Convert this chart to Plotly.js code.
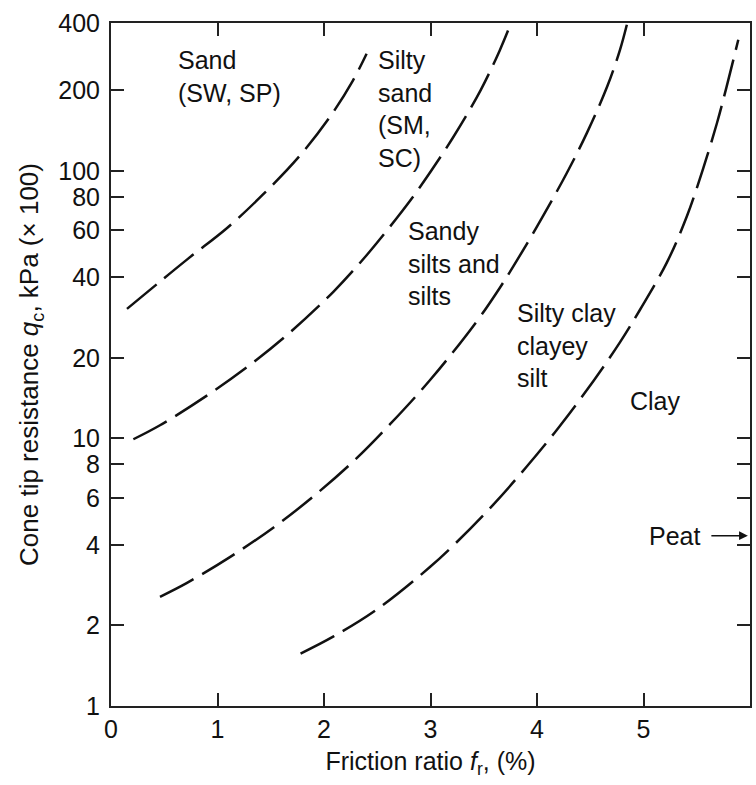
<!DOCTYPE html>
<html>
<head>
<meta charset="utf-8">
<script src="https://cdn.plot.ly/plotly-3.0.1.min.js"></script>
<style>html,body{margin:0;padding:0;background:#fff;}#chart{width:756px;height:785px;}</style>
</head>
<body>
<div id="chart"></div>
<script>
// Boundary curves (friction ratio %, cone tip resistance kPa x100)
var sandX = [0.15, 0.71, 1.09, 1.43, 1.78, 2.06, 2.27, 2.40];
var sandY = [30.5, 46.5, 61.2, 81.8, 114.8, 160, 217, 274];

var siltySandX = [0.21, 0.46, 0.90, 1.31, 1.65, 2.09, 2.40, 2.68, 2.90, 3.21, 3.47, 3.65, 3.76];
var siltySandY = [9.93, 11.2, 14.45, 18.9, 24.3, 35.4, 48.4, 66.4, 86.9, 133, 200, 282, 360];

var sandySiltX = [0.46, 0.71, 1.12, 1.53, 1.90, 2.28, 2.62, 3.00, 3.42, 3.65, 3.84, 4.06, 4.28, 4.47, 4.66, 4.78, 4.85];
var sandySiltY = [2.56, 2.88, 3.61, 4.66, 6.07, 8.24, 11.3, 16.6, 26.9, 36.5, 48.3, 68.2, 98.2, 139, 207, 284, 360];

var siltyClayX = [1.78, 2.09, 2.50, 3.00, 3.25, 3.59, 3.90, 4.22, 4.53, 4.78, 4.97, 5.22, 5.41, 5.56, 5.69, 5.78, 5.89];
var siltyClayY = [1.57, 1.82, 2.30, 3.32, 4.11, 5.66, 7.82, 11.2, 16.4, 22.9, 30.4, 45.5, 68.1, 102, 151, 206, 309];

// Axis ticks
var xTickVals = [0, 1, 2, 3, 4, 5, 6];
var xTickText = ['0', '1', '2', '3', '4', '5', '6'];
var yTickVals = [1, 2, 4, 6, 8, 10, 20, 40, 60, 80, 100, 200, 357];
var yTickText = ['1', '2', '4', '6', '8', '10', '20', '40', '60', '80', '100', '200', '400'];
var yTop = 357;

// Zone labels (left edge x, vertical centre y)
var zoneText = ['Sand<br>(SW, SP)', 'Silty<br>sand<br>(SM,<br>SC)', 'Sandy<br>silts and<br>silts', 'Silty clay<br>clayey<br>silt', 'Clay', 'Peat'];
var zoneX = [0.61, 2.49, 2.77, 3.79, 4.85, 5.03];
var zoneY = [226, 171, 44.9, 22.2, 13.8, 4.33];
var peatArrowX = 5.98;
var peatArrowY = 4.33;

var FONT = 'Liberation Sans, Arial, Helvetica, sans-serif';
var lineStyle = {color: '#111', width: 2.5, dash: '38px,10px', shape: 'spline', smoothing: 1};

function tr(x, y) {
  return {x: x, y: y, mode: 'lines', type: 'scatter', line: lineStyle, hoverinfo: 'skip', showlegend: false};
}
var data = [tr(sandX, sandY), tr(siltySandX, siltySandY), tr(sandySiltX, sandySiltY), tr(siltyClayX, siltyClayY)];

var annotations = zoneText.map(function (t, i) {
  return {
    x: zoneX[i], y: Math.log10(zoneY[i]), xref: 'x', yref: 'y',
    text: t, showarrow: false, xanchor: 'left', yanchor: 'middle', align: 'left',
    font: {family: FONT, size: 25, color: '#111'}
  };
});
annotations.push({
  x: peatArrowX, y: Math.log10(peatArrowY), xref: 'x', yref: 'y',
  ax: -38, ay: 0, text: '', showarrow: true, arrowhead: 2, arrowsize: 1.1, arrowwidth: 1.6, arrowcolor: '#111', standoff: 0
});

var axisCommon = {
  showline: true, linewidth: 2, linecolor: '#222', mirror: 'ticks',
  ticks: 'inside', ticklen: 13, tickwidth: 2, tickcolor: '#222',
  showgrid: false, zeroline: false,
  tickfont: {family: FONT, size: 25, color: '#111'}
};

var layout = {
  width: 756, height: 785,
  margin: {l: 111, r: 6, t: 23, b: 79},
  paper_bgcolor: '#fff', plot_bgcolor: '#fff',
  showlegend: false,
  xaxis: Object.assign({}, axisCommon, {
    range: [0, 6], tickmode: 'array', tickvals: xTickVals, ticktext: xTickText,
    ticklabelstandoff: 0,
    title: {text: 'Friction ratio <i>f</i><sub>r</sub>, (%)', font: {family: FONT, size: 25, color: '#111'}, standoff: 10}
  }),
  yaxis: Object.assign({}, axisCommon, {
    type: 'log', range: [0, Math.log10(yTop)], tickmode: 'array', tickvals: yTickVals, ticktext: yTickText,
    ticklabelstandoff: 4,
    title: {text: 'Cone tip resistance <i>q</i><sub>c</sub>, kPa (× 100)', font: {family: FONT, size: 26, color: '#111'}, standoff: 12}
  }),
  annotations: annotations
};

Plotly.newPlot('chart', data, layout, {staticPlot: true, displayModeBar: false});
</script>
</body>
</html>
